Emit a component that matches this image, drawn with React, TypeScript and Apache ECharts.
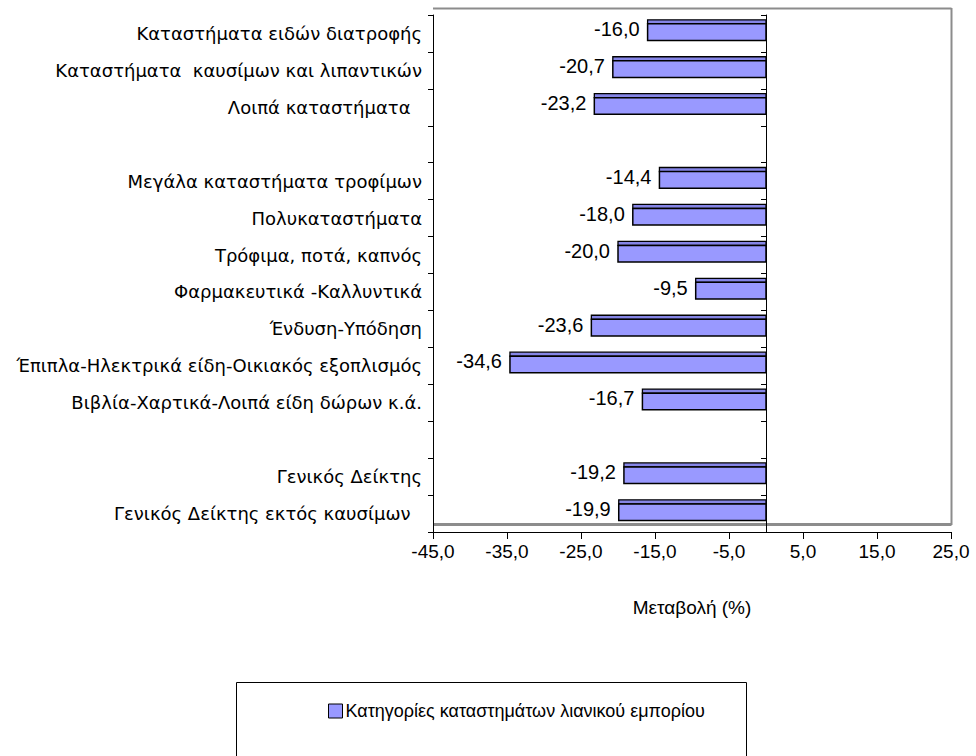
import React, { useEffect, useRef } from 'react';
import * as echarts from 'echarts';

const categories: string[] = [
  'Καταστήματα ειδών διατροφής',
  'Καταστήματα  καυσίμων και λιπαντικών',
  'Λοιπά καταστήματα\u00a0\u00a0',
  '',
  'Μεγάλα καταστήματα τροφίμων',
  'Πολυκαταστήματα',
  'Τρόφιμα, ποτά, καπνός',
  'Φαρμακευτικά -Καλλυντικά',
  'Ένδυση-Υπόδηση',
  'Έπιπλα-Ηλεκτρικά είδη-Οικιακός εξοπλισμός',
  'Βιβλία-Χαρτικά-Λοιπά είδη δώρων κ.ά.',
  '',
  'Γενικός Δείκτης',
  'Γενικός Δείκτης εκτός καυσίμων\u00a0\u00a0',
];

const values: (number | null)[] = [
  -16.0, -20.7, -23.2, null, -14.4, -18.0, -20.0, -9.5, -23.6, -34.6, -16.7, null, -19.2, -19.9,
];

const xMin = -45;
const xMax = 25;
const xInterval = 10;

const seriesName = 'Κατηγορίες καταστημάτων λιανικού εμπορίου';
const xAxisName = 'Μεταβολή (%)';

const FONT = '"Liberation Sans", Arial, sans-serif';
const CAT_FONT = '"DejaVu Sans", "Liberation Sans", Arial, sans-serif';
const fmt = (v: number) => v.toFixed(1).replace('.', ',');

export default function App() {
  const ref = useRef<HTMLDivElement>(null);
  useEffect(() => {
    if (!ref.current) return;
    const chart = echarts.init(ref.current, null, { renderer: 'svg' });
    const data = values
      .map((v, i) => (v == null ? null : [i, v]))
      .filter((d) => d !== null);
    const option: any = {
      animation: false,
      backgroundColor: '#ffffff',
      textStyle: { fontFamily: FONT },
      grid: { left: 433, right: 25, top: 15, bottom: 224, containLabel: false },
      xAxis: {
        type: 'value',
        min: xMin,
        max: xMax,
        interval: xInterval,
        position: 'bottom',
        axisLine: { show: true, onZero: false, lineStyle: { color: '#000', width: 1 } },
        axisTick: { show: true, length: 7, lineStyle: { color: '#000' } },
        axisLabel: { fontSize: 19, color: '#000', margin: 10, fontFamily: FONT, formatter: (v: number) => fmt(v) },
        splitLine: { show: false },
        name: xAxisName,
        nameLocation: 'middle',
        nameGap: 66,
        nameTextStyle: { fontSize: 19, color: '#000', fontFamily: FONT },
      },
      yAxis: [
        {
          type: 'category',
          data: categories,
          inverse: true,
          position: 'left',
          axisLine: { show: true, onZero: false, lineStyle: { color: '#000', width: 1 } },
          axisTick: { show: true, length: 5, lineStyle: { color: '#000' } },
          axisLabel: { fontSize: 18, color: '#000', margin: 11, fontFamily: CAT_FONT },
          splitLine: { show: false },
        },
        {
          type: 'category',
          data: categories,
          inverse: true,
          position: 'right',
          offset: -185,
          axisLine: { show: true, onZero: false, lineStyle: { color: '#000', width: 1 } },
          axisTick: { show: true, inside: true, length: 5, lineStyle: { color: '#000' } },
          axisLabel: { show: false },
          splitLine: { show: false },
        },
      ],
      legend: {
        show: true,
        left: 323,
        top: 697,
        itemWidth: 14,
        itemHeight: 14,
        itemGap: 4,
        textStyle: { fontSize: 18, color: '#000', fontFamily: FONT, padding: [0, 0, 0, -2] },
        data: [
          {
            name: seriesName,
            icon: 'rect',
            itemStyle: { color: '#9999FF', borderColor: '#000', borderWidth: 1 },
          },
        ],
      },
      graphic: [
        {
          type: 'line',
          shape: { x1: 433, y1: 8.5, x2: 951.5, y2: 8.5 },
          style: { stroke: '#8c8c8c', lineWidth: 2 },
          z: 0,
        },
        {
          type: 'line',
          shape: { x1: 951.5, y1: 8, x2: 951.5, y2: 525 },
          style: { stroke: '#8c8c8c', lineWidth: 2 },
          z: 0,
        },
        {
          type: 'line',
          shape: { x1: 433, y1: 524.5, x2: 951.5, y2: 524.5 },
          style: { stroke: '#8c8c8c', lineWidth: 3 },
          z: 0,
        },
        {
          type: 'rect',
          shape: { x: 236.5, y: 682.5, width: 510, height: 80 },
          style: { fill: 'none', stroke: '#000', lineWidth: 1 },
          z: 0,
        },
      ],
      series: [
        {
          type: 'custom',
          name: seriesName,
          xAxisIndex: 0,
          yAxisIndex: 0,
          encode: { x: 1, y: 0 },
          itemStyle: { color: '#9999FF' },
          data,
          z: 1,
          renderItem: (params: any, api: any) => {
            const idx = api.value(0);
            const v = api.value(1);
            const p0 = api.coord([0, idx]);
            const p1 = api.coord([v, idx]);
            const band = api.size([0, 1])[1];
            const cy = p0[1];
            const top = cy - band * 0.37;
            const mid = cy - band * 0.26;
            const bot = cy + band * 0.19;
            const xl = Math.min(p0[0], p1[0]);
            const xr = Math.max(p0[0], p1[0]);
            return {
              type: 'group',
              children: [
                {
                  type: 'rect',
                  shape: { x: xl, y: top, width: xr - xl, height: mid - top },
                  style: { fill: '#8585E6', stroke: '#000', lineWidth: 1.3 },
                },
                {
                  type: 'rect',
                  shape: { x: xl, y: mid, width: xr - xl, height: bot - mid },
                  style: { fill: '#9999FF', stroke: '#000', lineWidth: 1.5 },
                },
                {
                  type: 'text',
                  style: {
                    text: fmt(v),
                    x: xl - 8,
                    y: (top + bot) / 2 - 1,
                    align: 'right',
                    verticalAlign: 'middle',
                    fontSize: 20,
                    fontFamily: FONT,
                    fill: '#000',
                  },
                },
              ],
            };
          },
        },
      ],
    };
    chart.setOption(option);
    return () => chart.dispose();
  }, []);
  return <div ref={ref} style={{ width: 976, height: 756, position: 'absolute', left: 0, top: 0 }} />;
}
